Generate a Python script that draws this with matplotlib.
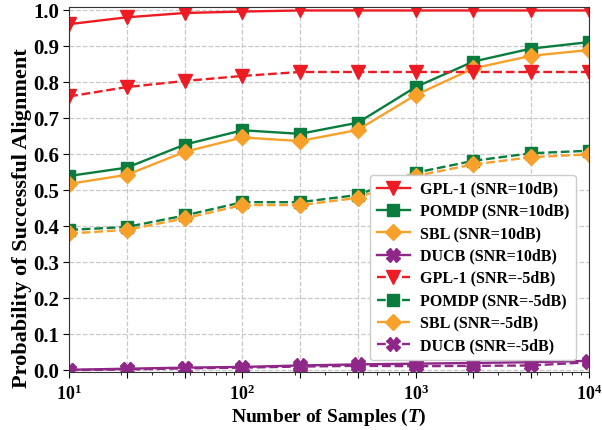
import numpy as np
import matplotlib
matplotlib.use("Agg")
import matplotlib.pyplot as plt
from matplotlib.ticker import FixedLocator, FuncFormatter, LogLocator

plt.rcParams['font.family'] = ['Liberation Serif', 'DejaVu Serif']
plt.rcParams['font.weight'] = 'bold'
plt.rcParams['mathtext.fontset'] = 'custom'
plt.rcParams['mathtext.rm'] = 'Liberation Serif:bold'
plt.rcParams['mathtext.bf'] = 'Liberation Serif:bold'
plt.rcParams['mathtext.it'] = 'Liberation Serif:italic'

# Number of samples T
samples = [10, 21.5, 46.4, 100, 215, 464, 1000, 2154, 4642, 10000]

gpl_10 = [0.962, 0.981, 0.993, 0.997, 1.0, 1.0, 1.0, 1.0, 1.0, 1.0]
pomdp_10 = [0.540, 0.563, 0.627, 0.667, 0.657, 0.688, 0.787, 0.858, 0.894, 0.912]
sbl_10 = [0.518, 0.543, 0.607, 0.647, 0.637, 0.668, 0.765, 0.839, 0.874, 0.890]
ducb_10 = [0.001, 0.004, 0.007, 0.009, 0.013, 0.016, 0.018, 0.020, 0.022, 0.026]

gpl_m5 = [0.761, 0.787, 0.804, 0.818, 0.829, 0.829, 0.829, 0.829, 0.829, 0.829]
pomdp_m5 = [0.390, 0.398, 0.430, 0.467, 0.467, 0.487, 0.549, 0.582, 0.603, 0.610]
sbl_m5 = [0.380, 0.390, 0.422, 0.459, 0.459, 0.479, 0.540, 0.572, 0.592, 0.600]
ducb_m5 = [0.000, 0.002, 0.005, 0.007, 0.010, 0.012, 0.011, 0.012, 0.013, 0.022]

labels_10 = ['GPL-1 (SNR=10dB)', 'POMDP (SNR=10dB)', 'SBL (SNR=10dB)', 'DUCB (SNR=10dB)']
labels_m5 = ['GPL-1 (SNR=-5dB)', 'POMDP (SNR=-5dB)', 'SBL (SNR=-5dB)', 'DUCB (SNR=-5dB)']

colors = ['#ED1C24', '#0A7D3E', '#F7A12B', '#8E2788']
markers = ['v', 's', 'D', 'X']
sizes = [9.5, 8, 8.5, 9.5]

fig = plt.figure(figsize=(6.02, 4.30), dpi=100)
ax = fig.add_axes([0.115, 0.135, 0.863, 0.849])

for vals, lab, c, m, s in zip([gpl_10, pomdp_10, sbl_10, ducb_10], labels_10, colors, markers, sizes):
    ax.plot(samples, vals, color=c, marker=m, markersize=s, linewidth=1.7,
            linestyle='-', label=lab)
for vals, lab, c, m, s in zip([gpl_m5, pomdp_m5, sbl_m5, ducb_m5], labels_m5, colors, markers, sizes):
    ax.plot(samples, vals, color=c, marker=m, markersize=s, linewidth=1.7,
            linestyle='--', label=lab)

ax.set_xscale('log')
ax.set_xlim(10, 10000)
ax.set_ylim(-0.005, 1.01)

# major ticks (and grid) at every sample size, labels only at decades
ax.xaxis.set_major_locator(FixedLocator(samples))
ax.xaxis.set_major_formatter(FuncFormatter(
    lambda v, pos: r'$\mathbf{10^{%d}}$' % round(np.log10(v))
    if abs(np.log10(v) - round(np.log10(v))) < 1e-6 else ''))
ax.xaxis.set_minor_locator(LogLocator(base=10, subs=np.arange(2, 10)))
ax.xaxis.set_minor_formatter(FuncFormatter(lambda v, pos: ''))

yt = np.arange(0, 1.01, 0.1)
ax.set_yticks(yt)
ax.set_yticklabels([f'{v:.1f}' for v in yt])
ax.grid(True, which='major', linestyle='--', color='#c8c8c8', linewidth=0.9)
ax.tick_params(axis='y', which='major', labelsize=15, length=4)
ax.tick_params(axis='x', which='major', labelsize=13, length=4, pad=5)
ax.tick_params(axis='x', which='minor', length=2.5)
for lbl in ax.get_yticklabels():
    lbl.set_fontweight('bold')

ax.set_xlabel(r'Number of Samples ($T$)', fontsize=14, fontweight='bold', labelpad=2)
ax.set_ylabel('Probability of Successful Alignment', fontsize=16, fontweight='bold')
ax.yaxis.set_label_coords(-0.071, 0.42)

for sp in ax.spines.values():
    sp.set_color('#333333')

leg = ax.legend(loc='lower right', prop={'weight': 'bold', 'size': 11.5},
                framealpha=1.0, edgecolor='#cccccc', handlelength=2.1,
                borderpad=0.4, labelspacing=0.4, handletextpad=0.6,
                bbox_to_anchor=(0.99, 0.01))

fig.savefig('out.png', dpi=100)
